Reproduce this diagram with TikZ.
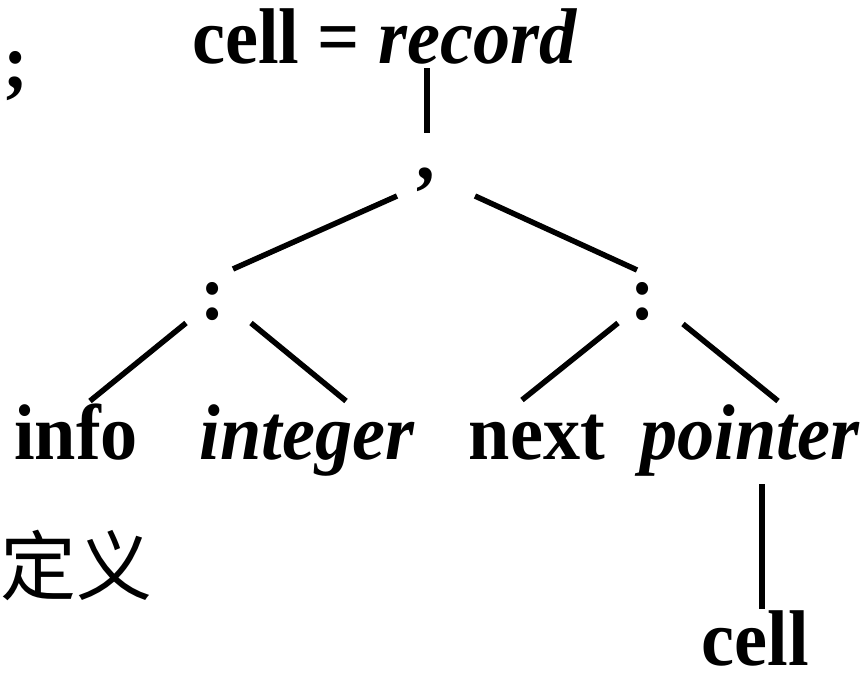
\documentclass[tikz,border=0pt]{standalone}
\usepackage{fontspec}
\setmainfont{Liberation Serif}[FakeStretch=0.94]
\newfontfamily\cjk{Noto Sans CJK SC}
\begin{document}
\begin{tikzpicture}[x=1pt,y=-1pt,
  lbl/.style={font=\fontsize{79}{80}\selectfont\bfseries, inner sep=0pt, anchor=base},
  edge/.style={line width=5.5pt}]
\useasboundingbox (0,0) rectangle (864,673);
% tree labels
\node[lbl] (semi) at (16,88) {;};
\node[lbl] (root) at (385,63) {cell = \textit{record}};
\node[lbl] (comma) at (426,179) {,};
\node[lbl] (lcol) at (213,319) {:};
\node[lbl] (rcol) at (643,319) {:};
\node[lbl] (info) at (76,459) {info};
\node[lbl] (int) at (307,459) {\textit{integer}};
\node[lbl] (next) at (537,459) {next};
\node[lbl] (ptr) at (750,459) {\textit{pointer}};
\node[lbl] (cell) at (755,665) {cell};
\node[font=\fontsize{76}{78}\selectfont\cjk, inner sep=0pt] (def) at (77,565) {定义};
% edges
\draw[edge] ([shift={(42,5)}]root.base) -- ([shift={(1,-46)}]comma.base);
\draw[edge] ([shift={(-29,17)}]comma.base) -- ([shift={(20,-50)}]lcol.base);
\draw[edge] ([shift={(49,17)}]comma.base) -- ([shift={(-6,-49)}]rcol.base);
\draw[edge] ([shift={(-27,4)}]lcol.base) -- ([shift={(14,-58)}]info.base);
\draw[edge] ([shift={(38,4)}]lcol.base) -- ([shift={(39,-58)}]int.base);
\draw[edge] ([shift={(-25,4)}]rcol.base) -- ([shift={(-15,-59)}]next.base);
\draw[edge] ([shift={(40,5)}]rcol.base) -- ([shift={(28,-58)}]ptr.base);
\draw[edge] ([shift={(12,25)}]ptr.base) -- ([shift={(7,-56)}]cell.base);
\end{tikzpicture}
\end{document}
